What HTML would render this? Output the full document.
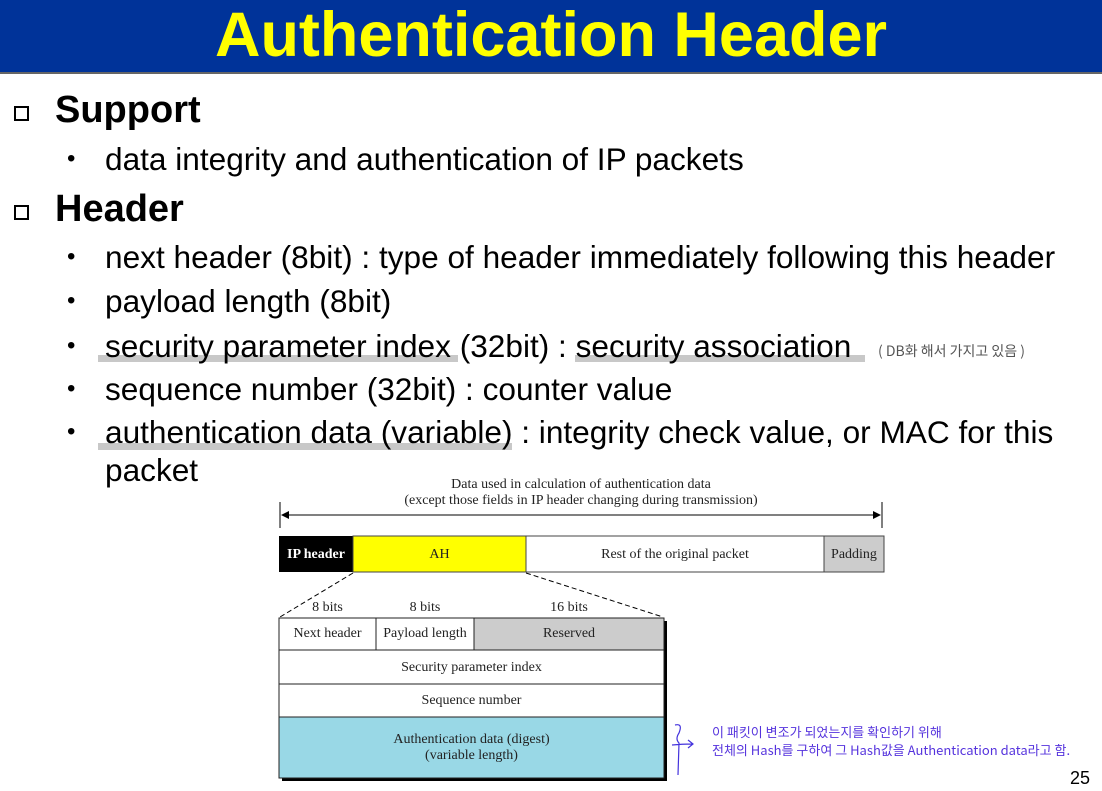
<!DOCTYPE html>
<html><head><meta charset="utf-8"><style>
body{margin:0;width:1102px;height:791px;background:#fff;position:relative;overflow:hidden;font-family:"Liberation Sans",sans-serif}
.a{position:absolute;white-space:nowrap}
.t{font-family:"Liberation Serif",serif;font-size:14px;color:#222}
.b{font-size:31.6px;color:#000}
.h{font-size:38px;font-weight:bold}
.dot{font-size:24px}
.k{font-family:"Noto Sans CJK KR","Liberation Sans",sans-serif;color:#5533dd;font-size:13px}
.hl{position:absolute;background:#c8c8c8;height:7px}
</style></head><body>
<div class="a" style="left:0;top:0;width:1102px;height:72px;background:#003399"></div>
<div class="a" style="left:0;top:0;width:1102px;text-align:center;color:#ffff00;font-weight:bold;font-size:63px;line-height:70px">Authentication Header</div>
<div class="a" style="left:0;top:72px;width:1102px;height:2px;background:#666"></div>

<div class="hl" style="left:98px;top:355px;width:360px"></div>
<div class="hl" style="left:575px;top:355px;width:290px"></div>
<div class="hl" style="left:98px;top:443px;width:414px"></div>

<div class="a" style="left:14px;top:106px;width:15px;height:15px;border:2px solid #000;box-sizing:border-box"></div>
<div class="a h" style="left:55px;top:89px">Support</div>
<div class="a dot" style="left:67px;top:145px">•</div>
<div class="a b" style="left:105px;top:141px">data integrity and authentication of IP packets</div>
<div class="a" style="left:14px;top:205px;width:15px;height:15px;border:2px solid #000;box-sizing:border-box"></div>
<div class="a h" style="left:55px;top:188px">Header</div>
<div class="a dot" style="left:67px;top:243px">•</div>
<div class="a b" style="left:105px;top:239px">next header (8bit) : type of header immediately following this header</div>
<div class="a dot" style="left:67px;top:287px">•</div>
<div class="a b" style="left:105px;top:283px">payload length (8bit)</div>
<div class="a dot" style="left:67px;top:332px">•</div>
<div class="a b" style="left:105px;top:328px">security parameter index (32bit) : security association</div>
<div class="a k" style="left:878px;top:341px;font-size:14px;color:#555">( DB화 해서 가지고 있음 )</div>
<div class="a dot" style="left:67px;top:375px">•</div>
<div class="a b" style="left:105px;top:371px">sequence number (32bit) : counter value</div>
<div class="a dot" style="left:67px;top:418px">•</div>
<div class="a b" style="left:105px;top:414px">authentication data (variable) : integrity check value, or MAC for this</div>
<div class="a b" style="left:105px;top:452px">packet</div>

<div class="a t" style="left:280px;top:477px;width:602px;text-align:center;line-height:16px">Data used in calculation of authentication data<br>(except those fields in IP header changing during transmission)</div>
<svg class="a" style="left:0;top:0" width="1102" height="791">
<line x1="280" y1="502" x2="280" y2="528" stroke="#000"/>
<line x1="882" y1="502" x2="882" y2="528" stroke="#000"/>
<line x1="282" y1="515" x2="880" y2="515" stroke="#000"/>
<polygon points="281,515 289,511 289,519" fill="#000"/>
<polygon points="881,515 873,511 873,519" fill="#000"/>
<rect x="279" y="536" width="74" height="36" fill="#000"/>
<rect x="353" y="536" width="173" height="36" fill="#ffff00" stroke="#444"/>
<rect x="526" y="536" width="298" height="36" fill="#fff" stroke="#444"/>
<rect x="824" y="536" width="60" height="36" fill="#ccc" stroke="#444"/>
<line x1="353" y1="573" x2="280" y2="617" stroke="#000" stroke-dasharray="5,3"/>
<line x1="526" y1="573" x2="663" y2="617" stroke="#000" stroke-dasharray="5,3"/>
<rect x="282" y="621" width="385" height="160" fill="#000"/>
<rect x="279" y="618" width="385" height="160" fill="#fff" stroke="#222"/>
<rect x="474" y="618" width="190" height="32" fill="#ccc" stroke="#222"/>
<line x1="376" y1="618" x2="376" y2="650" stroke="#222"/>
<line x1="279" y1="650" x2="664" y2="650" stroke="#222"/>
<line x1="279" y1="684" x2="664" y2="684" stroke="#222"/>
<rect x="279" y="717" width="385" height="61" fill="#99d8e6" stroke="#222"/>
<path d="M675 725 q8 -2 4 8 q-4 6 0 10 L678 775 M672 745 q10 -1 20 -1 M688 740 l5 4 l-5 4" stroke="#4433dd" fill="none" stroke-width="1.2"/>
</svg>
<div class="a t" style="left:279px;top:547px;width:74px;text-align:center;color:#fff;font-weight:bold">IP header</div>
<div class="a t" style="left:353px;top:547px;width:173px;text-align:center">AH</div>
<div class="a t" style="left:526px;top:547px;width:298px;text-align:center">Rest of the original packet</div>
<div class="a t" style="left:824px;top:547px;width:60px;text-align:center">Padding</div>
<div class="a t" style="left:279px;top:600px;width:97px;text-align:center">8 bits</div>
<div class="a t" style="left:376px;top:600px;width:98px;text-align:center">8 bits</div>
<div class="a t" style="left:474px;top:600px;width:190px;text-align:center">16 bits</div>
<div class="a t" style="left:279px;top:626px;width:97px;text-align:center">Next header</div>
<div class="a t" style="left:376px;top:626px;width:98px;text-align:center">Payload length</div>
<div class="a t" style="left:474px;top:626px;width:190px;text-align:center">Reserved</div>
<div class="a t" style="left:279px;top:660px;width:385px;text-align:center">Security parameter index</div>
<div class="a t" style="left:279px;top:693px;width:385px;text-align:center">Sequence number</div>
<div class="a t" style="left:279px;top:732px;width:385px;text-align:center;line-height:16px">Authentication data (digest)<br>(variable length)</div>
<div class="a k" style="left:712px;top:722px">이 패킷이 변조가 되었는지를 확인하기 위해</div>
<div class="a k" style="left:712px;top:740px">전체의 Hash를 구하여 그 Hash값을 Authentication data라고 함.</div>
<div class="a" style="left:1070px;top:768px;font-size:18px">25</div>
</body></html>
